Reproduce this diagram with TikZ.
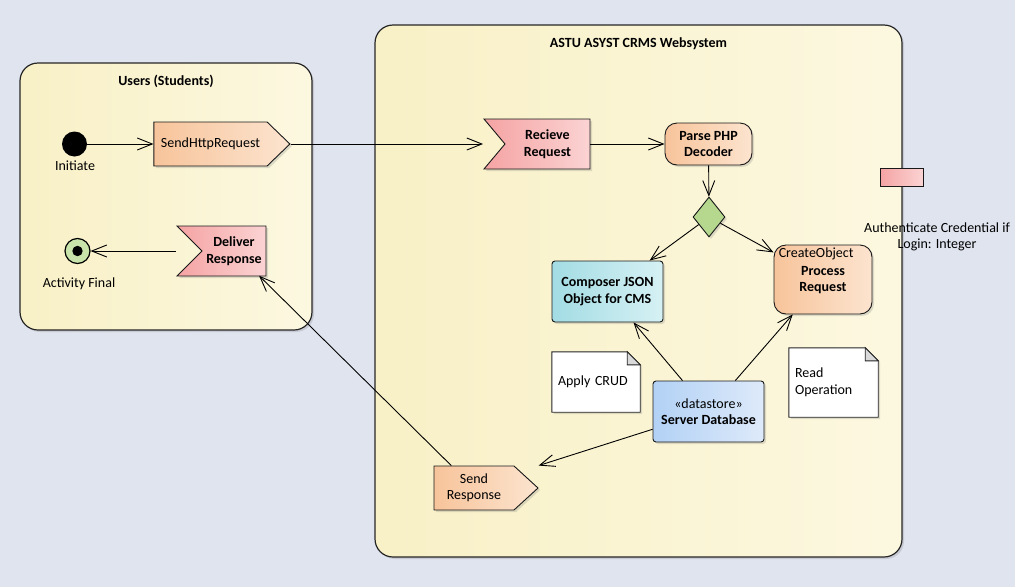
\documentclass[tikz,border=0pt]{standalone}
\usepackage{fontspec}
\setmainfont{Carlito}
\usetikzlibrary{arrows.meta,shapes.symbols,shapes.geometric,shadows,calc}
\pgfdeclarelayer{back}\pgfdeclarelayer{mid}\pgfsetlayers{back,mid,main}
\definecolor{bgc}{HTML}{E0E4EF}
\definecolor{frameL}{HTML}{F8F0C6}
\definecolor{frameR}{HTML}{FCF8E0}
\definecolor{orL}{HTML}{F7C49B}
\definecolor{orR}{HTML}{FCE4CF}
\definecolor{pkL}{HTML}{F5A3A3}
\definecolor{pkR}{HTML}{FBD3D3}
\definecolor{tlL}{HTML}{A3DCE4}
\definecolor{tlR}{HTML}{D6F1F4}
\definecolor{blL}{HTML}{B2D1F5}
\definecolor{blR}{HTML}{DEEAFA}
\definecolor{dgreen}{HTML}{B5D78E}
\definecolor{fgreen}{HTML}{C9E4AB}
\definecolor{foldc}{HTML}{D9D9D9}
\tikzset{
  shad/.style={drop shadow={shadow xshift=2pt,shadow yshift=-2pt,opacity=0.25}},
  frame/.style={draw=black!85,line width=1.2pt,rounded corners=18pt,left color=frameL,right color=frameR,shad},
  ftitle/.style={font=\fontsize{14}{16}\selectfont\bfseries},
  arr/.style={draw=black,line width=0.9pt,-{Straight Barb[length=15pt,width=12pt,line width=0.9pt]}},
  base/.style={draw=black!90,line width=0.9pt,align=center,inner sep=2pt,shad},
  sendsig/.style={base,signal,signal to=east,signal from=nowhere,left color=orL,right color=orR},
  accsig/.style={base,signal,signal to=nowhere,signal from=west,left color=pkL,right color=pkR,font=\fontsize{14}{16.5}\selectfont\bfseries},
  actbox/.style={base,rounded corners=12pt,left color=orL,right color=orR,font=\fontsize{14}{16.5}\selectfont\bfseries},
  notetext/.style={align=left,anchor=center,inner sep=0pt},
  notepath/.style={draw=black!85,line width=0.9pt,fill=white,shad},
  lbl/.style={inner sep=0pt}
}
\begin{document}
\begin{tikzpicture}[x=1pt,y=-1pt,font=\fontsize{14}{16.5}\selectfont]
\useasboundingbox (0,0) rectangle (1015,587);

\begin{pgfonlayer}{back}
\fill[bgc] (0,0) rectangle (1015,587);
\node[frame,minimum width=292pt,minimum height=267pt] (users) at (166,196.5) {};
\node[frame,minimum width=527pt,minimum height=532pt] (web) at (638.5,291) {};
\end{pgfonlayer}
\node[ftitle] (userst) at (166,81) {Users (Students)};
\node[ftitle] (webt) at (638.5,44) {ASTU ASYST CRMS Websystem};

% Users partition
\node[circle,fill=black,minimum size=25pt,inner sep=0pt] (init) at (74.5,144) {};
\node[lbl] (initl) at (75,166) {Initiate};
\node[sendsig,minimum width=136pt,minimum height=44pt,signal pointer angle=88] (sh) at (210.5,144) {SendHttpRequest};
\node[circle,draw=black,line width=1.2pt,fill=fgreen,minimum size=25pt,inner sep=0pt] (fin) at (77.5,251) {};
\fill[black] (fin.center) circle (5.2);
\node[lbl] (finl) at (79,284) {Activity Final};
\node[accsig,minimum width=89pt,minimum height=50pt,signal pointer angle=90] (dr) at (234,251) {Deliver\\Response};

% Websystem partition
\node[accsig,minimum width=106pt,minimum height=50pt,signal pointer angle=100] (rr) at (547.5,144) {Recieve\\Request};
\node[actbox,minimum width=87pt,minimum height=42pt] (php) at (708.5,144) {Parse PHP\\Decoder};
\node[diamond,draw=black!90,line width=0.9pt,fill=dgreen,minimum width=32pt,minimum height=40pt,inner sep=0pt,shad] (dia) at (709,217) {};
\node[base,rounded corners=3pt,left color=tlL,right color=tlR,minimum width=111pt,minimum height=61pt,font=\fontsize{14}{16.5}\selectfont\bfseries] (json) at (607.5,291.5) {Composer JSON\\Object for CMS};
\node[actbox,rounded corners=12pt,minimum width=98pt,minimum height=69pt,
  label={[anchor=north west,inner sep=0pt,xshift=5pt,yshift=-3pt,font=\fontsize{14}{16}\selectfont]north west:CreateObject}] (proc) at (823,279.5) {\\[-6pt]Process\\Request};
\node[base,rounded corners=3pt,left color=blL,right color=blR,minimum width=111pt,minimum height=61pt] (db) at (708.5,411.5) {«datastore»\\\textbf{Server Database}};
\node[sendsig,minimum width=104pt,minimum height=44pt,signal pointer angle=85] (sr) at (474,488) {Send\\Response};

% notes
\node[notetext,minimum width=88pt,minimum height=60pt,text width=76pt] (crud) at (596,382) {Apply CRUD};
\node[notetext,minimum width=89pt,minimum height=69pt,text width=77pt] (readop) at (833.5,382.5) {Read\\Operation};
\begin{pgfonlayer}{mid}
\foreach \n in {crud,readop}{
  \draw[notepath] (\n.north west) -- ($(\n.north east)+(-13,0)$) -- ($(\n.north east)+(0,13)$) -- (\n.south east) -- (\n.south west) -- cycle;
  \draw[draw=black!85,line width=0.9pt,fill=foldc] ($(\n.north east)+(-13,0)$) -- ($(\n.north east)+(-13,13)$) -- ($(\n.north east)+(0,13)$) -- cycle;
}
\end{pgfonlayer}

% pin
\node[draw=black!90,line width=0.9pt,left color=pkL,right color=pkR,minimum width=43pt,minimum height=18pt,inner sep=0pt] (pin) at (901.5,177) {};
\node[align=center,inner sep=0pt,font=\fontsize{14}{16}\selectfont] (pinl) at (937,237) {Authenticate Credential if\\Login: Integer};

% connectors
\draw[arr] (init) -- (sh.west);
\draw[arr] (sh.east) -- (rr.north west |- sh.east);
\draw[arr] (rr.east) -- (php.west);
\draw[arr] (php) -- (dia);
\draw[arr] (dia) -- (json);
\draw[arr] (dia) -- (proc);
\draw[arr] (db) -- (json);
\draw[arr] (db) -- (proc);
\draw[arr] (db) -- (sr.east |- sr.north);
\draw[arr] (sr) -- (dr);
\draw[arr] (dr.north west |- fin) -- (fin);
\end{tikzpicture}
\end{document}
